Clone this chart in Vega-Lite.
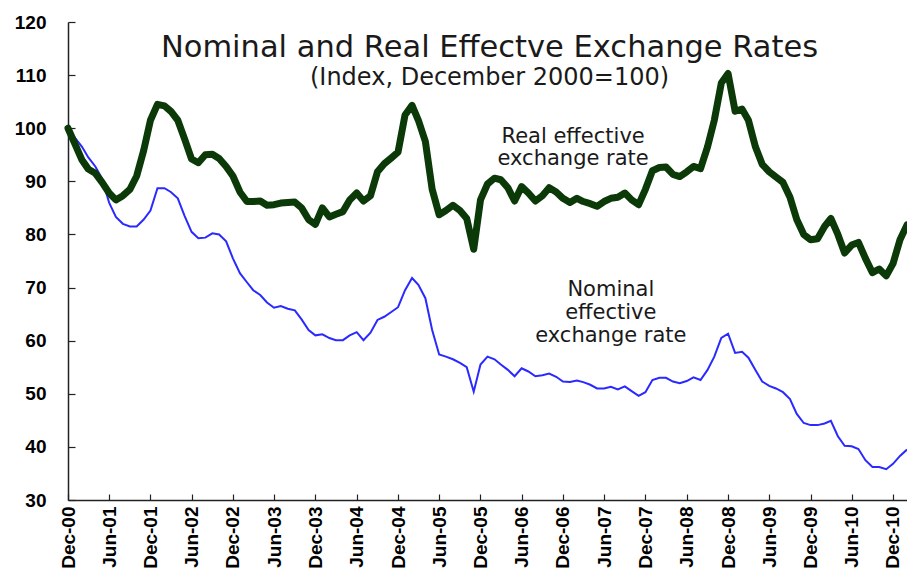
{
  "$schema": "https://vega.github.io/schema/vega-lite/v6.json",
  "width": 839,
  "height": 478,
  "autosize": {"type": "none"},
  "padding": {"left": 68, "top": 22, "right": 0, "bottom": 75},
  "background": "white",
  "config": {"view": {"stroke": null}},
  "data": {"values": [
    {"d":"2000-12-01","r":100,"n":100},
    {"d":"2001-01-01","r":97.0,"n":98.2},
    {"d":"2001-02-01","r":94.0,"n":96.5},
    {"d":"2001-03-01","r":92.3,"n":94.5},
    {"d":"2001-04-01","r":91.5,"n":92.8},
    {"d":"2001-05-01","r":89.8,"n":90.5},
    {"d":"2001-06-01","r":87.8,"n":86.0},
    {"d":"2001-07-01","r":86.5,"n":83.3},
    {"d":"2001-08-01","r":87.3,"n":82.0},
    {"d":"2001-09-01","r":88.5,"n":81.5},
    {"d":"2001-10-01","r":91.0,"n":81.5},
    {"d":"2001-11-01","r":95.8,"n":82.8},
    {"d":"2001-12-01","r":101.5,"n":84.5},
    {"d":"2002-01-01","r":104.5,"n":88.7},
    {"d":"2002-02-01","r":104.2,"n":88.7},
    {"d":"2002-03-01","r":103.2,"n":88.0},
    {"d":"2002-04-01","r":101.5,"n":86.8},
    {"d":"2002-05-01","r":98.0,"n":83.5},
    {"d":"2002-06-01","r":94.2,"n":80.5},
    {"d":"2002-07-01","r":93.5,"n":79.3},
    {"d":"2002-08-01","r":95.0,"n":79.4},
    {"d":"2002-09-01","r":95.1,"n":80.2},
    {"d":"2002-10-01","r":94.3,"n":80.0},
    {"d":"2002-11-01","r":92.8,"n":78.7},
    {"d":"2002-12-01","r":91.0,"n":75.5},
    {"d":"2003-01-01","r":88.0,"n":72.7},
    {"d":"2003-02-01","r":86.2,"n":71.0},
    {"d":"2003-03-01","r":86.2,"n":69.5},
    {"d":"2003-04-01","r":86.3,"n":68.6},
    {"d":"2003-05-01","r":85.5,"n":67.2},
    {"d":"2003-06-01","r":85.6,"n":66.2},
    {"d":"2003-07-01","r":85.9,"n":66.5},
    {"d":"2003-08-01","r":86.0,"n":66.0},
    {"d":"2003-09-01","r":86.1,"n":65.7},
    {"d":"2003-10-01","r":85.0,"n":64.0},
    {"d":"2003-11-01","r":82.8,"n":62.0},
    {"d":"2003-12-01","r":81.9,"n":61.0},
    {"d":"2004-01-01","r":85.0,"n":61.2},
    {"d":"2004-02-01","r":83.3,"n":60.5},
    {"d":"2004-03-01","r":83.8,"n":60.1},
    {"d":"2004-04-01","r":84.3,"n":60.1},
    {"d":"2004-05-01","r":86.5,"n":61.0},
    {"d":"2004-06-01","r":87.8,"n":61.6},
    {"d":"2004-07-01","r":86.3,"n":60.1},
    {"d":"2004-08-01","r":87.3,"n":61.5},
    {"d":"2004-09-01","r":91.8,"n":63.9},
    {"d":"2004-10-01","r":93.3,"n":64.5},
    {"d":"2004-11-01","r":94.4,"n":65.4},
    {"d":"2004-12-01","r":95.5,"n":66.3},
    {"d":"2005-01-01","r":102.5,"n":69.5},
    {"d":"2005-02-01","r":104.3,"n":71.8},
    {"d":"2005-03-01","r":101.5,"n":70.5},
    {"d":"2005-04-01","r":97.5,"n":68.0},
    {"d":"2005-05-01","r":88.5,"n":62.0},
    {"d":"2005-06-01","r":83.7,"n":57.4},
    {"d":"2005-07-01","r":84.5,"n":57.0},
    {"d":"2005-08-01","r":85.5,"n":56.5},
    {"d":"2005-09-01","r":84.5,"n":55.8},
    {"d":"2005-10-01","r":83.0,"n":55.0},
    {"d":"2005-11-01","r":77.2,"n":50.4},
    {"d":"2005-12-01","r":86.5,"n":55.5},
    {"d":"2006-01-01","r":89.5,"n":57.0},
    {"d":"2006-02-01","r":90.6,"n":56.5},
    {"d":"2006-03-01","r":90.3,"n":55.5},
    {"d":"2006-04-01","r":88.8,"n":54.5},
    {"d":"2006-05-01","r":86.3,"n":53.3},
    {"d":"2006-06-01","r":89.0,"n":54.8},
    {"d":"2006-07-01","r":87.8,"n":54.2},
    {"d":"2006-08-01","r":86.3,"n":53.3},
    {"d":"2006-09-01","r":87.3,"n":53.5},
    {"d":"2006-10-01","r":88.8,"n":53.8},
    {"d":"2006-11-01","r":88.0,"n":53.2},
    {"d":"2006-12-01","r":86.8,"n":52.3},
    {"d":"2007-01-01","r":86.0,"n":52.2},
    {"d":"2007-02-01","r":86.8,"n":52.5},
    {"d":"2007-03-01","r":86.2,"n":52.2},
    {"d":"2007-04-01","r":85.8,"n":51.7},
    {"d":"2007-05-01","r":85.3,"n":51.0},
    {"d":"2007-06-01","r":86.2,"n":51.0},
    {"d":"2007-07-01","r":86.8,"n":51.3},
    {"d":"2007-08-01","r":87.0,"n":50.8},
    {"d":"2007-09-01","r":87.8,"n":51.4},
    {"d":"2007-10-01","r":86.5,"n":50.5},
    {"d":"2007-11-01","r":85.6,"n":49.6},
    {"d":"2007-12-01","r":88.5,"n":50.3},
    {"d":"2008-01-01","r":92.0,"n":52.6},
    {"d":"2008-02-01","r":92.6,"n":53.0},
    {"d":"2008-03-01","r":92.7,"n":53.0},
    {"d":"2008-04-01","r":91.3,"n":52.3},
    {"d":"2008-05-01","r":90.9,"n":52.0},
    {"d":"2008-06-01","r":91.8,"n":52.4},
    {"d":"2008-07-01","r":92.8,"n":53.1},
    {"d":"2008-08-01","r":92.4,"n":52.6},
    {"d":"2008-09-01","r":96.5,"n":54.5},
    {"d":"2008-10-01","r":101.5,"n":57.0},
    {"d":"2008-11-01","r":108.5,"n":60.5},
    {"d":"2008-12-01","r":110.3,"n":61.3},
    {"d":"2009-01-01","r":103.2,"n":57.7},
    {"d":"2009-02-01","r":103.6,"n":57.9},
    {"d":"2009-03-01","r":101.5,"n":56.8},
    {"d":"2009-04-01","r":96.5,"n":54.5},
    {"d":"2009-05-01","r":93.2,"n":52.3},
    {"d":"2009-06-01","r":91.8,"n":51.5},
    {"d":"2009-07-01","r":90.8,"n":51.0},
    {"d":"2009-08-01","r":89.8,"n":50.3},
    {"d":"2009-09-01","r":87.0,"n":49.0},
    {"d":"2009-10-01","r":82.8,"n":46.2},
    {"d":"2009-11-01","r":80.0,"n":44.5},
    {"d":"2009-12-01","r":79.0,"n":44.1},
    {"d":"2010-01-01","r":79.2,"n":44.1},
    {"d":"2010-02-01","r":81.5,"n":44.4},
    {"d":"2010-03-01","r":83.0,"n":44.9},
    {"d":"2010-04-01","r":80.0,"n":42.0},
    {"d":"2010-05-01","r":76.5,"n":40.2},
    {"d":"2010-06-01","r":78.0,"n":40.1},
    {"d":"2010-07-01","r":78.5,"n":39.6},
    {"d":"2010-08-01","r":75.5,"n":37.5},
    {"d":"2010-09-01","r":72.8,"n":36.2},
    {"d":"2010-10-01","r":73.5,"n":36.2},
    {"d":"2010-11-01","r":72.2,"n":35.8},
    {"d":"2010-12-01","r":74.5,"n":36.8},
    {"d":"2011-01-01","r":79.0,"n":38.3},
    {"d":"2011-02-01","r":81.8,"n":39.5}
  ]},
  "encoding": {
    "x": {
      "field": "d", "type": "temporal",
      "scale": {"type": "utc", "domain": [{"year": 2000, "month": 12, "date": 1, "utc": true}, {"year": 2011, "month": 2, "date": 1, "utc": true}]},
      "axis": {
        "title": null, "grid": false,
        "values": [
          {"year":2000,"month":12,"date":1,"utc":true},{"year":2001,"month":6,"date":1,"utc":true},
          {"year":2001,"month":12,"date":1,"utc":true},{"year":2002,"month":6,"date":1,"utc":true},
          {"year":2002,"month":12,"date":1,"utc":true},{"year":2003,"month":6,"date":1,"utc":true},
          {"year":2003,"month":12,"date":1,"utc":true},{"year":2004,"month":6,"date":1,"utc":true},
          {"year":2004,"month":12,"date":1,"utc":true},{"year":2005,"month":6,"date":1,"utc":true},
          {"year":2005,"month":12,"date":1,"utc":true},{"year":2006,"month":6,"date":1,"utc":true},
          {"year":2006,"month":12,"date":1,"utc":true},{"year":2007,"month":6,"date":1,"utc":true},
          {"year":2007,"month":12,"date":1,"utc":true},{"year":2008,"month":6,"date":1,"utc":true},
          {"year":2008,"month":12,"date":1,"utc":true},{"year":2009,"month":6,"date":1,"utc":true},
          {"year":2009,"month":12,"date":1,"utc":true},{"year":2010,"month":6,"date":1,"utc":true},
          {"year":2010,"month":12,"date":1,"utc":true}
        ],
        "format": "%b-%y",
        "labelAngle": -90,
        "labelFont": "Liberation Sans", "labelFontWeight": "bold", "labelFontSize": 19,
        "labelColor": "#000", "labelPadding": 12, "labelOverlap": false,
        "tickSize": -6, "tickColor": "#222", "tickWidth": 1.2,
        "domainColor": "#222", "domainWidth": 1.5
      }
    },
    "y": {
      "type": "quantitative",
      "scale": {"domain": [30, 120], "nice": false, "zero": false},
      "axis": {
        "title": null, "grid": false,
        "values": [30, 40, 50, 60, 70, 80, 90, 100, 110, 120],
        "labelFont": "Liberation Sans", "labelFontWeight": "bold", "labelFontSize": 19,
        "labelColor": "#000", "labelPadding": 29,
        "tickSize": -7, "tickColor": "#222", "tickWidth": 1.2,
        "domainColor": "#222", "domainWidth": 1.5
      }
    }
  },
  "layer": [
    {
      "mark": {"type": "line", "color": "#2a2aff", "strokeWidth": 2, "clip": false},
      "encoding": {"y": {"field": "n", "type": "quantitative"}}
    },
    {
      "mark": {"type": "line", "color": "#0b3a08", "strokeWidth": 7, "strokeJoin": "round", "strokeCap": "round", "clip": false},
      "encoding": {"y": {"field": "r", "type": "quantitative"}}
    },
    {
      "data": {"values": [{"d": "2006-01-10", "v": 115.1, "t": "Nominal and Real Effectve Exchange Rates"}]},
      "mark": {"type": "text", "font": "DejaVu Sans", "fontSize": 30.5, "color": "#1a1a1a", "align": "center", "baseline": "middle"},
      "encoding": {"x": {"field": "d", "type": "temporal"}, "y": {"field": "v", "type": "quantitative"}, "text": {"field": "t"}}
    },
    {
      "data": {"values": [{"d": "2006-01-10", "v": 109.5, "t": "(Index, December 2000=100)"}]},
      "mark": {"type": "text", "font": "DejaVu Sans", "fontSize": 24, "color": "#1a1a1a", "align": "center", "baseline": "middle"},
      "encoding": {"x": {"field": "d", "type": "temporal"}, "y": {"field": "v", "type": "quantitative"}, "text": {"field": "t"}}
    },
    {
      "data": {"values": [
        {"d": "2007-01-15", "v": 98.3, "t": "Real effective"},
        {"d": "2007-01-15", "v": 94.2, "t": "exchange rate"},
        {"d": "2007-07-01", "v": 69.5, "t": "Nominal"},
        {"d": "2007-07-01", "v": 65.2, "t": "effective"},
        {"d": "2007-07-01", "v": 60.9, "t": "exchange rate"}
      ]},
      "mark": {"type": "text", "font": "DejaVu Sans", "fontSize": 21, "color": "#1a1a1a", "align": "center", "baseline": "middle"},
      "encoding": {"x": {"field": "d", "type": "temporal"}, "y": {"field": "v", "type": "quantitative"}, "text": {"field": "t"}}
    }
  ]
}
